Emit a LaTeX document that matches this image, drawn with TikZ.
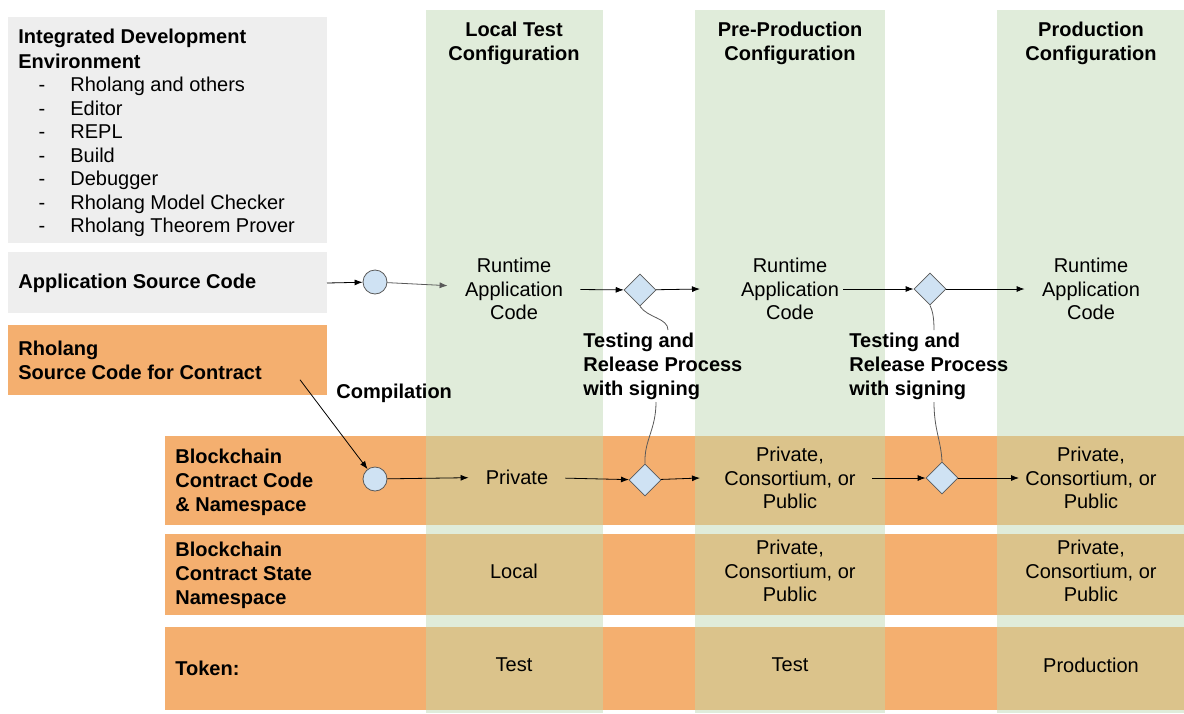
\documentclass[tikz,border=0pt]{standalone}
\usepackage{fontspec}
\setmainfont{Liberation Sans}
\usetikzlibrary{shapes.geometric, arrows.meta}
\definecolor{idegray}{HTML}{EEEEEE}
\definecolor{colgreen}{HTML}{E0ECDA}
\definecolor{roworange}{HTML}{F4AF6F}
\definecolor{rowtan}{HTML}{DBC38B}
\definecolor{stepblue}{HTML}{CFE2F3}
\definecolor{edgegray}{HTML}{595959}
\tikzset{
  cell/.style={align=center, text width=66pt, inner sep=0pt},
  wide/.style={align=center, inner sep=3pt},
  label/.style={align=left, font=\bfseries, inner sep=0pt, anchor=west},
  head/.style={align=center, font=\bfseries, inner sep=0pt},
  stage/.style={circle, draw=edgegray, fill=stepblue, minimum size=12pt, inner sep=0pt},
  gate/.style={diamond, draw=edgegray, fill=stepblue, minimum size=16pt, inner sep=0pt},
  flow/.style={-{Latex[length=4pt, width=3pt]}, thin},
}
\begin{document}
\begin{tikzpicture}[x=0.5pt, y=-0.5pt, font=\fontsize{10}{11.7}\selectfont]
  \useasboundingbox (0,0) rectangle (1184,713);
  % Background
  \fill[colgreen] (426,10) rectangle (603,713);
  \fill[colgreen] (695,10) rectangle (885,713);
  \fill[colgreen] (997,10) rectangle (1184,713);
  \fill[idegray] (8,17) rectangle (327,243);
  \fill[idegray] (8,252) rectangle (327,313);
  \fill[roworange] (8,325) rectangle (327,395);
  \foreach \top/\bot in {436/525, 534/615, 627/710} {
    \fill[roworange] (165,\top) rectangle (1184,\bot);
    \fill[rowtan] (426,\top) rectangle (603,\bot);
    \fill[rowtan] (695,\top) rectangle (885,\bot);
    \fill[rowtan] (997,\top) rectangle (1184,\bot);
  }
  % Nodes
  \node (ide) [label] at (18,38) {Integrated Development};
  \node (ide2) [label] at (18,61) {Environment};
  \foreach \item [count=\i] in {Rholang and others, Editor, REPL, Build, Debugger, Rholang Model Checker, Rholang Theorem Prover} {
    \node (dash\i) [inner sep=0pt, anchor=base] at (42,68+23.5*\i) {-};
    \node (tool\i) [inner sep=0pt, anchor=base west] at (70,68+23.5*\i) {\item};
  }
  \node (appsrc) [label] at (18,283) {Application Source Code};
  \node (rhosrc) [label] at (18,360) {Rholang\\Source Code for Contract};
  \node (compile) [label] at (336,393) {Compilation};
  \node (codens) [label] at (175,482) {Blockchain\\Contract Code\\\& Namespace};
  \node (statens) [label] at (175,575) {Blockchain\\Contract State\\Namespace};
  \node (token) [label] at (175,668) {Token:};

  \node (local) [head] at (514,43) {Local Test\\Configuration};
  \node (preprod) [head] at (790,43) {Pre-Production\\Configuration};
  \node (prod) [head] at (1091,43) {Production\\Configuration};

  \node (run1) [cell] at (514,289) {Runtime\\Application\\Code};
  \node (run2) [cell] at (790,289) {Runtime\\Application\\Code};
  \node (run3) [cell] at (1091,289) {Runtime\\Application\\Code};

  \node (code1) [cell, text width=48pt] at (517,477) {Private};
  \node (code2) [wide] at (790,478) {Private,\\Consortium, or\\Public};
  \node (code3) [wide] at (1091,478) {Private,\\Consortium, or\\Public};
  \node (state1) [cell] at (514,571) {Local};
  \node (state2) [wide] at (790,571) {Private,\\Consortium, or\\Public};
  \node (state3) [wide] at (1091,571) {Private,\\Consortium, or\\Public};
  \node (token1) [cell] at (514,665) {Test};
  \node (token2) [cell] at (790,665) {Test};
  \node (token3) [cell] at (1091,665) {Production};

  \node (build) [stage] at (375,282) {};
  \node (compiler) [stage] at (375,479) {};
  \node (gate1) [gate] at (640,290) {};
  \node (gate2) [gate] at (930,289) {};
  \node (gate3) [gate] at (645,480) {};
  \node (gate4) [gate] at (942,478) {};

  \node (release1) [label, anchor=north west] at (583,333) {Testing and\\Release Process\\with signing};
  \node (release2) [label, anchor=north west] at (849,333) {Testing and\\Release Process\\with signing};
  % Arrow
  \draw[flow] (327,283) -- (build);
  \draw[flow, edgegray] (build) -- (run1);
  \draw[flow] (run1) -- (gate1);
  \draw[flow] (gate1) -- (run2.west -| 700,0);
  \draw[flow] (run2.east -| 843,0) -- (gate2);
  \draw[flow] (gate2) -- (run3);
  \draw[flow] (rhosrc.south -| 300,0) -- (compiler);
  \draw[flow] (compiler) -- (code1);
  \draw[flow] (code1) -- (gate3);
  \draw[flow] (gate3) -- (code2.west -| 700,0);
  \draw[flow] (code2.east -| 872,0) -- (gate4);
  \draw[flow] (gate4) -- (code3.west |- gate4);
  % Callouts
  \draw[edgegray] (gate1.south) .. controls (648,318) and (668,318) .. (668,330);
  \draw[edgegray] (656,402) .. controls (656,430) and (644,440) .. (gate3.north);
  \draw[edgegray] (gate2.south) .. controls (932,310) and (934,315) .. (934,330);
  \draw[edgegray] (934,402) .. controls (934,430) and (941,440) .. (gate4.north);
\end{tikzpicture}
\end{document}
